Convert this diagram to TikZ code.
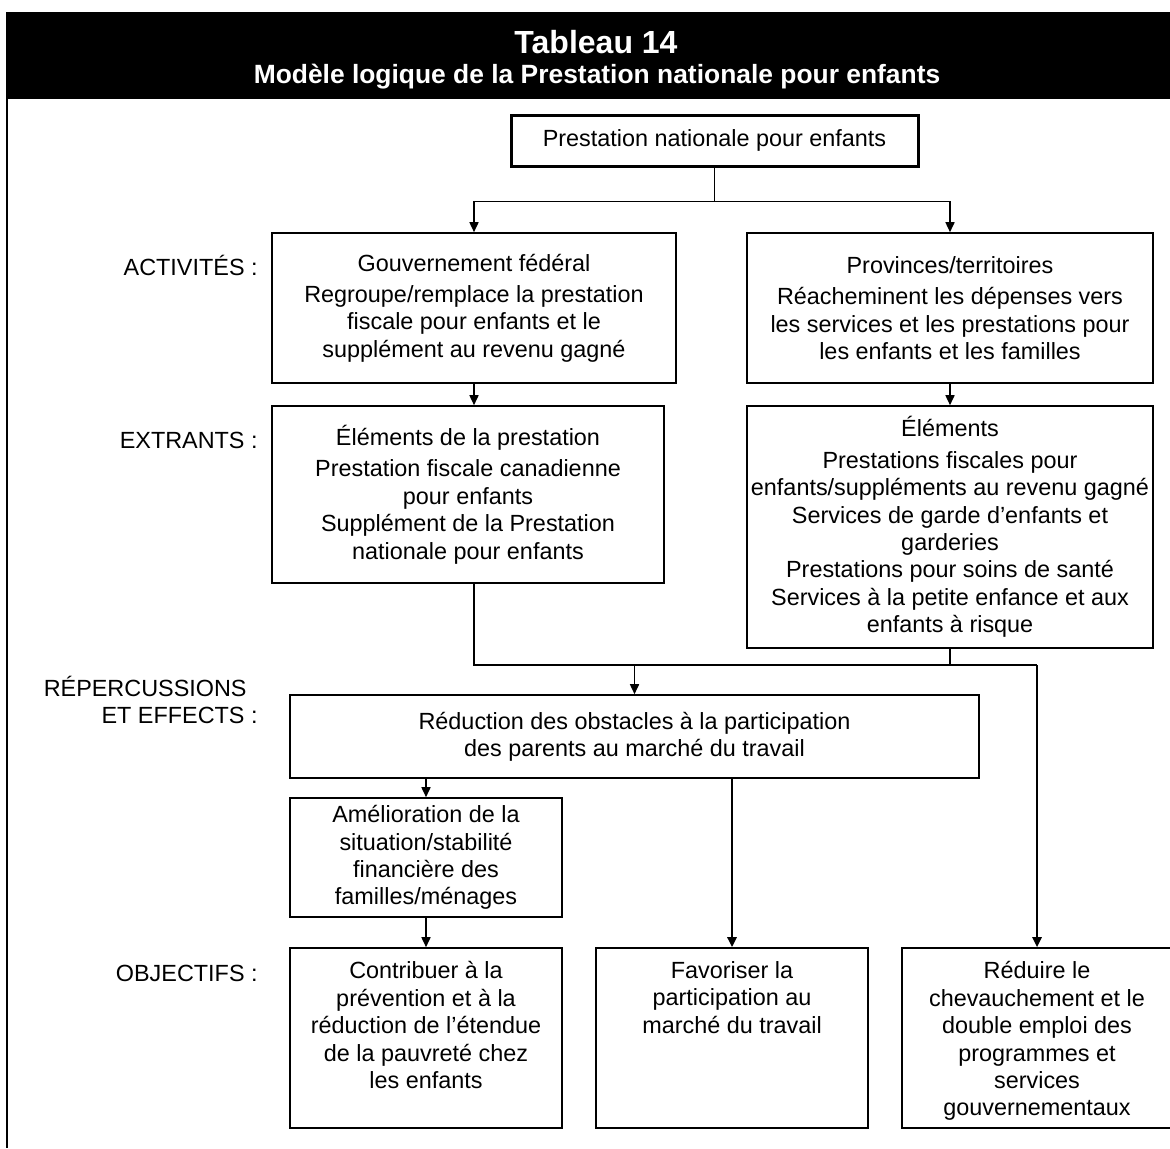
\documentclass[tikz,border=0pt]{standalone}
\usepackage{fontspec}
\setmainfont{Liberation Sans}
\usetikzlibrary{arrows.meta,positioning}

\begin{document}
\begin{tikzpicture}[x=0.5pt,y=-0.5pt,>={Triangle[length=5pt,width=4.5pt]},
                    every node/.style={font=\fontsize{11.7pt}{13.7pt}\selectfont},
                    box/.style={draw,line width=0.8pt,align=center,inner sep=0pt},
                    txt/.style={align=center,inner sep=0pt},
                    lbl/.style={anchor=east,align=right,inner sep=0pt},
                    link/.style={line width=0.8pt},
                    heavy/.style={line width=1.3pt}]

  \useasboundingbox (0,0) rectangle (1170,1148);

  \node[fill=black,minimum width=582pt,minimum height=43.5pt,inner sep=0pt] (header) at (588,55.5) {};
  \node[txt,text=white,font=\fontsize{16pt}{18pt}\selectfont\bfseries]     (title)    at (596,42) {Tableau 14};
  \node[txt,text=white,font=\fontsize{13.2pt}{15pt}\selectfont\bfseries]   (subtitle) at (597,77) {Modèle logique de la Prestation nationale pour enfants};
  \draw[line width=1pt] (7,99) -- (7,1148);

  \node[lbl] (lact) at (258,265) {ACTIVITÉS :};
  \node[lbl] (lext) at (258,440) {EXTRANTS :};
  \node[lbl] (lrep) at (258,700) {RÉPERCUSSIONS\hbox to 5.5pt{}\\ ET EFFECTS :};
  \node[lbl] (lobj) at (258,973) {OBJECTIFS :};

  \node[box,line width=1.5pt,minimum width=203.5pt,minimum height=25.5pt] (pne) at (714.5,140.5) {Prestation nationale pour enfants};

  \node[box,minimum width=202pt,minimum height=75pt]   (gouv)  at (474,308)   {Gouvernement fédéral\\[2pt] Regroupe/remplace la prestation\\ fiscale pour enfants et le\\ supplément au revenu gagné};
  \node[box,minimum width=203pt,minimum height=75pt]   (prov)  at (950,308)   {Provinces/territoires\\[2pt] Réacheminent les dépenses vers\\ les services et les prestations pour\\ les enfants et les familles};
  \node[box,minimum width=196pt,minimum height=88.5pt] (elem1) at (468,494.5) {Éléments de la prestation\\[2pt] Prestation fiscale canadienne\\ pour enfants\\ Supplément de la Prestation\\ nationale pour enfants};
  \node[box,minimum width=203pt,minimum height=121pt]  (elem2) at (950,527)   {Éléments\\[2pt] Prestations fiscales pour\\ enfants/suppléments au revenu gagné\\ Services de garde d’enfants et\\ garderies\\ Prestations pour soins de santé\\ Services à la petite enfance et aux\\ enfants à risque};

  \node[box,minimum width=344.5pt,minimum height=41.5pt] (reduc)  at (634.5,736.5) {Réduction des obstacles à la participation\\ des parents au marché du travail};
  \node[box,minimum width=136pt,minimum height=59.5pt]   (amelio) at (426,857.5)   {Amélioration de la\\ situation/stabilité\\ financière des\\ familles/ménages};

  \node[box,minimum width=136pt,minimum height=90pt] (contrib) at (426,1038)  {};
  \node[box,minimum width=136pt,minimum height=90pt] (favor)   at (732,1038)  {};
  \node[box,minimum width=135pt,minimum height=90pt] (reduire) at (1037,1038) {};
  \node[txt,below=7pt of contrib.north] (contrib-t) {Contribuer à la\\ prévention et à la\\ réduction de l’étendue\\ de la pauvreté chez\\ les enfants};
  \node[txt,below=7pt of favor.north]   (favor-t)   {Favoriser la\\ participation au\\ marché du travail};
  \node[txt,below=7pt of reduire.north] (reduire-t) {Réduire le\\ chevauchement et le\\ double emploi des\\ programmes et\\ services\\ gouvernementaux};

  \coordinate (bus) at (634.5,665);

  \draw[link] (pne.south) -- ++(0,34) coordinate (split);
  \draw[link,->] (split) -| (gouv.north);
  \draw[link,->] (split) -| (prov.north);
  \draw[link,->] (gouv.south) -- (gouv.south |- elem1.north);
  \draw[link,->] (prov.south) -- (prov.south |- elem2.north);
  \draw[line width=1pt] (elem1.south -| gouv.south) |- (bus -| reduire.north);
  \draw[link] (elem2.south) -- (elem2.south |- bus);
  \draw[link,->] (bus) -- (reduc.north);
  \draw[heavy,->] (bus -| reduire.north) -- (reduire.north);
  \draw[link,->] (amelio.north |- reduc.south) -- (amelio.north);
  \draw[heavy,->] (favor.north |- reduc.south) -- (favor.north);
  \draw[link,->] (amelio.south) -- (contrib.north);
\end{tikzpicture}
\end{document}
